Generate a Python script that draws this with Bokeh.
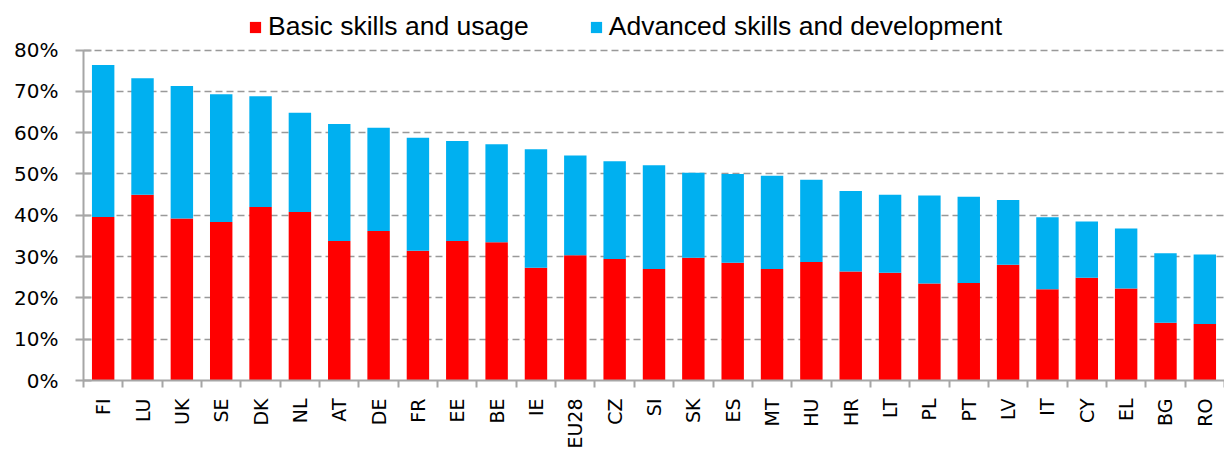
import math
from bokeh.plotting import figure
from bokeh.models import (Range1d, FixedTicker, Legend, LegendItem, ColumnDataSource,
                          PrintfTickFormatter)
from bokeh.embed import file_html
from bokeh.resources import INLINE

countries = ["FI", "LU", "UK", "SE", "DK", "NL", "AT", "DE", "FR", "EE", "BE", "IE", "EU28",
             "CZ", "SI", "SK", "ES", "MT", "HU", "HR", "LT", "PL", "PT", "LV", "IT", "CY",
             "EL", "BG", "RO"]
basic = [39.6, 45.0, 39.2, 38.4, 42.0, 40.8, 33.8, 36.2, 31.4, 33.8, 33.5, 27.3, 30.3,
         29.4, 27.0, 29.7, 28.5, 27.0, 28.7, 26.4, 26.1, 23.5, 23.6, 28.0, 22.1, 24.9,
         22.3, 14.0, 13.7]
advanced = [36.8, 28.2, 32.1, 30.9, 26.8, 24.0, 28.3, 25.0, 27.4, 24.2, 23.7, 28.7, 24.2,
            23.7, 25.1, 20.6, 21.5, 22.6, 19.9, 19.5, 18.9, 21.3, 20.9, 15.7, 17.4, 13.6,
            14.5, 16.8, 16.8]
series_names = ["Basic skills and usage", "Advanced skills and development"]
series_colors = ["#FF0000", "#00B0F0"]
y_ticks = [0, 10, 20, 30, 40, 50, 60, 70, 80]

n = len(countries)
centers = [i + 0.5 for i in range(n)]
bounds = [float(i) for i in range(n + 1)]

source = ColumnDataSource(dict(x=centers, basic=basic, advanced=advanced))

# y range extends above 80% so the legend can sit inside the frame (axis bounded to 0-80)
p = figure(width=1224, height=451, x_range=Range1d(0, n), y_range=Range1d(0, 92),
           output_backend="svg", toolbar_location=None,
           min_border_left=83, min_border_right=0, min_border_top=0, min_border_bottom=69)
p.outline_line_color = None
p.background_fill_color = "white"
p.border_fill_color = "white"

rs = p.vbar_stack(["basic", "advanced"], x="x", width=0.57, source=source,
                  color=series_colors, line_color=None)

grey = "#A6A6A6"
xa = p.xaxis[0]
xa.ticker = FixedTicker(ticks=centers, minor_ticks=bounds)
xa.major_label_overrides = {c: name for c, name in zip(centers, countries)}
xa.major_tick_out = 0
xa.major_tick_in = 0
xa.minor_tick_out = 7
xa.minor_tick_in = 0
xa.minor_tick_line_color = grey
xa.minor_tick_line_width = 2
xa.axis_line_color = grey
xa.axis_line_width = 2
xa.major_label_orientation = math.pi / 2
xa.major_label_standoff = 11
xa.major_label_text_font = "DejaVu Sans"
xa.major_label_text_font_size = "19px"
xa.major_label_text_color = "black"

ya = p.yaxis[0]
ya.bounds = (0, 80)
ya.ticker = FixedTicker(ticks=y_ticks, minor_ticks=[])
ya.formatter = PrintfTickFormatter(format="%d%%")
ya.major_tick_in = 8
ya.major_tick_out = 8
ya.major_tick_line_color = grey
ya.major_tick_line_width = 2
ya.minor_tick_out = 0
ya.minor_tick_in = 0
ya.axis_line_color = grey
ya.axis_line_width = 2
ya.major_label_standoff = 17
ya.major_label_text_font = "DejaVu Sans"
ya.major_label_text_font_size = "20px"
ya.major_label_text_color = "black"

p.xgrid.visible = False
p.ygrid.ticker = FixedTicker(ticks=y_ticks, minor_ticks=[])
p.ygrid.grid_line_color = "#999999"
p.ygrid.grid_line_dash = "7 4"
p.ygrid.grid_line_width = 1.7

legend = Legend(items=[LegendItem(label=series_names[i], renderers=[rs[i]]) for i in range(2)],
                orientation="horizontal", location=(165, 338),
                glyph_width=14, glyph_height=14, label_standoff=6, spacing=60,
                padding=0, margin=0, border_line_color=None, background_fill_alpha=0,
                label_text_font="Liberation Sans", label_text_font_size="26.5px",
                label_text_color="black")
p.add_layout(legend)

open("out.html", "w").write(file_html(p, INLINE))
